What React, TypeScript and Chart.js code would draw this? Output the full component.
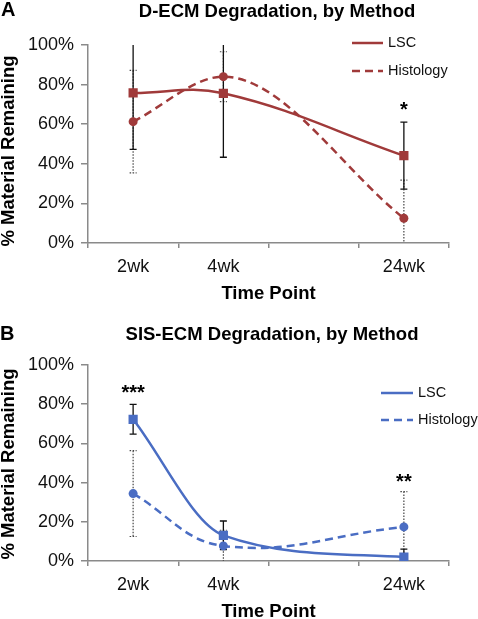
import React, { useEffect, useRef } from "react";
import { Chart, registerables } from "chart.js";

Chart.register(...registerables);

const FONT = "'Liberation Sans', Arial, Helvetica, sans-serif";

// ---- data ----
const categories = ["2wk", "4wk", "", "24wk"];
const seriesNames = ["LSC", "Histology"];

const aLscValues = [75.8, 75.6, null, 44.1];
const aLscErrors = [28.5, 32.3, null, 16.9];
const aHistValues = [61.3, 84.0, null, 12.5];
const aHistErrors = [25.9, 12.6, null, 19.3];
const aStarText = ["", "", "", "*"];
const aStarLevel = [null, null, null, 69];

const bLscValues = [72.3, 13.1, null, 2.0];
const bLscErrors = [7.6, 7.3, null, 4.1];
const bHistValues = [34.4, 7.7, null, 17.4];
const bHistErrors = [21.9, 8.0, null, 18.0];
const bStarText = ["***", "", "", "**"];
const bStarLevel = [87.4, null, null, 42.3];

const yMin = 0;
const yMax = 100;
const yStep = 20;

const AXIS_COLOR = "#8a8a8a";

const errorBarPlugin = {
  id: "errorBars",
  beforeDatasetsDraw(chart: any) {
    const { ctx, chartArea } = chart;
    const yScale = chart.scales.y;
    ctx.save();
    ctx.beginPath();
    ctx.rect(chartArea.left, chartArea.top, chartArea.right - chartArea.left, chartArea.bottom - chartArea.top);
    ctx.clip();
    const dsList = chart.data.datasets;
    for (let di = dsList.length - 1; di >= 0; di--) {
      const ds = dsList[di];
      const meta = chart.getDatasetMeta(di);
      ds.data.forEach((v: any, i: number) => {
        const e = ds.errors ? ds.errors[i] : null;
        if (v == null || e == null) return;
        const x = meta.data[i].x;
        const top = yScale.getPixelForValue(v + e);
        const bot = yScale.getPixelForValue(v - e);
        ctx.strokeStyle = ds.errColor;
        ctx.lineWidth = ds.errWidth;
        ctx.setLineDash(ds.errDash);
        ctx.beginPath();
        ctx.moveTo(x, top);
        ctx.lineTo(x, bot);
        ctx.moveTo(x - 3.5, top);
        ctx.lineTo(x + 3.5, top);
        ctx.moveTo(x - 3.5, bot);
        ctx.lineTo(x + 3.5, bot);
        ctx.stroke();
      });
    }
    ctx.restore();
  },
};

const annotationPlugin = {
  id: "panelText",
  afterDraw(chart: any) {
    const { ctx } = chart;
    const o = chart.options.plugins.panelText;
    ctx.save();
    // panel letter
    ctx.fillStyle = "#000";
    ctx.font = `bold 20px ${FONT}`;
    ctx.textAlign = "left";
    ctx.textBaseline = "middle";
    ctx.fillText(o.letter, o.letterX, o.letterY);
    // title
    ctx.font = `bold 18.5px ${FONT}`;
    ctx.textAlign = "center";
    ctx.fillText(o.title, o.titleX, o.titleY);
    // y-axis title
    ctx.save();
    ctx.translate(o.yTitleX, o.yTitleY);
    ctx.rotate(-Math.PI / 2);
    ctx.font = `bold 18.5px ${FONT}`;
    ctx.textAlign = "center";
    ctx.textBaseline = "middle";
    ctx.fillText("% Material Remaining", 0, 0);
    ctx.restore();
    // legend
    chart.data.datasets.forEach((ds: any, k: number) => {
      const ly = o.legendY + k * o.legendGap;
      ctx.strokeStyle = ds.borderColor;
      ctx.lineWidth = 2.5;
      ctx.setLineDash(ds.borderDash || []);
      ctx.beginPath();
      ctx.moveTo(o.legendX, ly);
      ctx.lineTo(o.legendX + o.legendLen, ly);
      ctx.stroke();
      ctx.setLineDash([]);
      ctx.fillStyle = "#111";
      ctx.font = `14.5px ${FONT}`;
      ctx.textAlign = "left";
      ctx.textBaseline = "middle";
      ctx.fillText(ds.label, o.legendX + o.legendLen + 5, ly);
    });
    // significance stars
    const xs = chart.scales.x;
    const ys = chart.scales.y;
    ctx.fillStyle = "#000";
    ctx.font = `bold 20px ${FONT}`;
    ctx.textAlign = "center";
    ctx.textBaseline = "middle";
    o.starText.forEach((t: string, i: number) => {
      if (!t || o.starLevel[i] == null) return;
      ctx.fillText(t, xs.getPixelForValue(i), ys.getPixelForValue(o.starLevel[i]) + 4);
    });
    ctx.restore();
  },
};

type PanelProps = {
  height: number;
  color: string;
  lsc: (number | null)[];
  lscErr: (number | null)[];
  hist: (number | null)[];
  histErr: (number | null)[];
  starText: string[];
  starLevel: (number | null)[];
  letter: string;
  title: string;
  text: any;
  padTop: number;
  xHeight: number;
  xTitlePad: number;
  modes: string[];
};

function Panel(p: PanelProps) {
  const ref = useRef<HTMLCanvasElement>(null);
  useEffect(() => {
    const canvas = ref.current;
    if (!canvas) return;
    const chart = new Chart(canvas, {
      type: "line",
      data: {
        labels: categories,
        datasets: [
          {
            label: seriesNames[0],
            data: p.lsc,
            errors: p.lscErr,
            errColor: "#111",
            errWidth: 1.3,
            errDash: [],
            borderColor: p.color,
            backgroundColor: p.color,
            borderWidth: 2.5,
            pointStyle: "rect",
            pointRadius: 6.5,
            pointBorderWidth: 0,
            pointBackgroundColor: p.color,
            spanGaps: true,
            tension: 0.4,
            cubicInterpolationMode: p.modes[0],
          } as any,
          {
            label: seriesNames[1],
            data: p.hist,
            errors: p.histErr,
            errColor: "#444",
            errWidth: 1.2,
            errDash: [1.5, 1.5],
            borderColor: p.color,
            backgroundColor: p.color,
            borderWidth: 2.5,
            borderDash: [8, 5],
            pointStyle: "circle",
            pointRadius: 4.5,
            pointBorderWidth: 0,
            pointBackgroundColor: p.color,
            spanGaps: true,
            tension: 0.4,
            cubicInterpolationMode: p.modes[1],
          } as any,
        ],
      },
      options: {
        animation: false,
        responsive: false,
        devicePixelRatio: 1,
        layout: { padding: { left: 0, top: p.padTop, right: 29, bottom: 0 } },
        plugins: {
          legend: { display: false },
          title: { display: false },
          tooltip: { enabled: false },
          panelText: {
            letter: p.letter,
            title: p.title,
            starText: p.starText,
            starLevel: p.starLevel,
            ...p.text,
          },
        } as any,
        scales: {
          x: {
            type: "category",
            offset: true,
            grid: {
              offset: true,
              drawOnChartArea: false,
              drawTicks: true,
              tickLength: 5,
              color: AXIS_COLOR,
              lineWidth: 1.5,
            },
            border: { color: AXIS_COLOR, width: 1.5 },
            ticks: {
              font: { family: FONT, size: 18 },
              color: "#111",
              padding: 8,
              maxRotation: 0,
              autoSkip: false,
            },
            title: {
              display: true,
              text: "Time Point",
              font: { family: FONT, size: 18.5, weight: "bold" },
              color: "#000",
              padding: { top: 0, bottom: p.xTitlePad },
            },
            afterFit: (s: any) => {
              s.height = p.xHeight;
            },
          },
          y: {
            min: yMin,
            max: yMax,
            grid: {
              drawOnChartArea: false,
              drawTicks: true,
              tickLength: 7,
              color: AXIS_COLOR,
              lineWidth: 1.5,
            },
            border: { color: AXIS_COLOR, width: 1.5 },
            ticks: {
              stepSize: yStep,
              font: { family: FONT, size: 18 },
              color: "#111",
              padding: 7,
              callback: (v: any) => `${v}%`,
            },
            title: { display: false },
            afterFit: (s: any) => {
              s.width = 88;
            },
          },
        },
      } as any,
      plugins: [errorBarPlugin, annotationPlugin],
    });
    return () => chart.destroy();
  }, []);
  return <canvas ref={ref} width={478} height={p.height} style={{ display: "block", width: 478, height: p.height }} />;
}

export default function App() {
  useEffect(() => {
    document.body.style.margin = "0";
    document.body.style.background = "#fff";
  }, []);
  return (
    <div style={{ width: 478, background: "#fff" }}>
      <Panel
        height={310}
        color="#A03A3A"
        lsc={aLscValues}
        lscErr={aLscErrors}
        hist={aHistValues}
        histErr={aHistErrors}
        starText={aStarText}
        starLevel={aStarLevel}
        letter="A"
        title="D-ECM Degradation, by Method"
        padTop={45}
        xHeight={67}
        xTitlePad={5}
        modes={["default", "monotone"]}
        text={{ letterX: 1, letterY: 10, titleX: 277, titleY: 12, yTitleX: 9, yTitleY: 151, legendX: 352, legendY: 43, legendGap: 28, legendLen: 31 }}
      />
      <Panel
        height={309}
        color="#4A6DC3"
        lsc={bLscValues}
        lscErr={bLscErrors}
        hist={bHistValues}
        histErr={bHistErrors}
        starText={bStarText}
        starLevel={bStarLevel}
        letter="B"
        title="SIS-ECM Degradation, by Method"
        padTop={55}
        xHeight={58}
        xTitlePad={-4}
        modes={["monotone", "default"]}
        text={{ letterX: 0, letterY: 24, titleX: 272, titleY: 25, yTitleX: 9, yTitleY: 154, legendX: 381, legendY: 83, legendGap: 27, legendLen: 32 }}
      />
    </div>
  );
}
